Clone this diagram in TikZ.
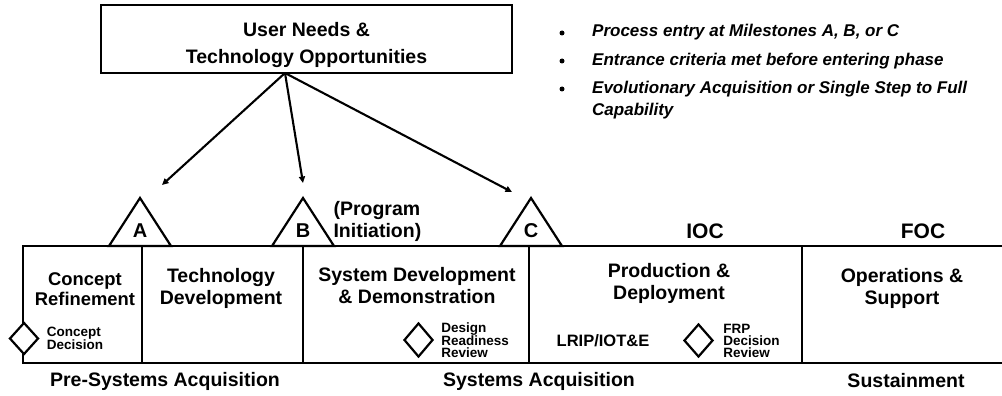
\documentclass[tikz,border=0pt]{standalone}
\usepackage{fontspec}
\setmainfont{Liberation Sans}
\usetikzlibrary{positioning,shapes.geometric,arrows.meta}

\begin{document}
\begin{tikzpicture}[x=1pt, y=-1pt,
	phase/.style={draw, line width=1.2pt, minimum height=117pt, outer sep=0pt, inner sep=0pt},
	phasetext/.style={align=center, font=\fontsize{19.5}{22}\selectfont\bfseries},
	gate/.style={diamond, draw, fill=white, line width=2.2pt, inner sep=0pt, minimum width=29pt, minimum height=32pt},
	gatetext/.style={align=left, inner sep=0pt, font=\fontsize{13.5}{12}\selectfont\bfseries},
	mstone/.style={draw, fill=white, line width=2.2pt, line join=miter},
	bullettext/.style={inner sep=0pt, font=\fontsize{17}{21}\selectfont\bfseries\itshape},
	entry/.style={line width=2.1pt, -{Triangle[length=6.5pt, width=6pt]}}]
	\useasboundingbox (0,0) rectangle (1002,396);

	\node[draw, line width=1.2pt, minimum width=411pt, minimum height=68pt] (needs) at (306.5,39) {};
	\node[align=center, font=\fontsize{19.5}{27}\selectfont\bfseries] (needstext) at ([yshift=-6pt]needs.center) {User Needs \&\\Technology Opportunities};

	% bullets
	\fill (562,33) circle (2.5pt) (562,61) circle (2.5pt) (562,89) circle (2.5pt);
	\node[bullettext, anchor=base west] (b1) at (592,37) {Process entry at Milestones A, B, or C};
	\node[bullettext, anchor=base west] (b2) at (592,66) {Entrance criteria met before entering phase};
	\node[bullettext, anchor=base west, align=left] (b3) at (592,115) {Evolutionary Acquisition or Single Step to Full\\Capability};

	% phases
	\node[phase, minimum width=119pt, anchor=north west] (p1) at (23,246) {};
	\node[phase, minimum width=161pt, right=0pt of p1] (p2) {};
	\node[phase, minimum width=226pt, right=0pt of p2] (p3) {};
	\node[phase, minimum width=273pt, right=0pt of p3] (p4) {};
	\node[phase, minimum width=230pt, right=0pt of p4] (p5) {};

	\node[phasetext, font=\fontsize{18.4}{20}\selectfont\bfseries] (t1) at (85,289) {Concept\\Refinement};
	\node[phasetext] (t2) at (221,288) {Technology\\Development};
	\node[phasetext] (t3) at (417,286) {System Development\\\& Demonstration};
	\node[phasetext] (t4) at (669,283.5) {Production \&\\Deployment};
	\node[phasetext] (t5) at (902,288) {Operations \&\\Support};

	% milestones
	\foreach \m/\x in {A/140, B/303, C/531} {
		\draw[mstone] (\x-31,246) -- (\x,198) -- (\x+31,246) -- cycle;
		\node[font=\fontsize{20}{22}\selectfont\bfseries] (m\m) at (\x,231) {\m};
	}
	\node[phasetext, align=left, anchor=west] (pi) at (330,221.5) {(Program\\Initiation)};
	\node[font=\fontsize{21}{24}\selectfont\bfseries] (ioc) at (705,231.5) {IOC};
	\node[font=\fontsize{21}{24}\selectfont\bfseries] (foc) at (923,231.5) {FOC};

	% decision points
	\node[gate] (cd) at (24,338.5) {};
	\node[gatetext, right=7pt of cd] (cdt) {Concept\\Decision};
	\node[gate, minimum height=34pt] (drr) at (418.5,340) {};
	\node[gatetext, right=7pt of drr] (drrt) {Design\\Readiness\\Review};
	\node[gate, minimum height=33pt] (frp) at (698.5,340.5) {};
	\node[gatetext, right=9pt of frp] (frpt) {FRP\\Decision\\Review};
	\node[font=\fontsize{16.5}{18}\selectfont\bfseries] (lrip) at (603,341) {LRIP/IOT\&E};

	\node[phasetext] (s1) at (165,381) {Pre-Systems Acquisition};
	\node[phasetext] (s2) at (539,381) {Systems Acquisition};
	\node[phasetext] (s3) at (906,381) {Sustainment};

	% entry arrows
	\coordinate (src) at (285,73);
	\coordinate (eA) at (162,185);
	\coordinate (eB) at (303,183);
	\coordinate (eC) at (512,192);
	\draw[entry] (src) -- (eA);
	\draw[entry] (src) -- (eB);
	\draw[entry] (src) -- (eC);
\end{tikzpicture}
\end{document}
